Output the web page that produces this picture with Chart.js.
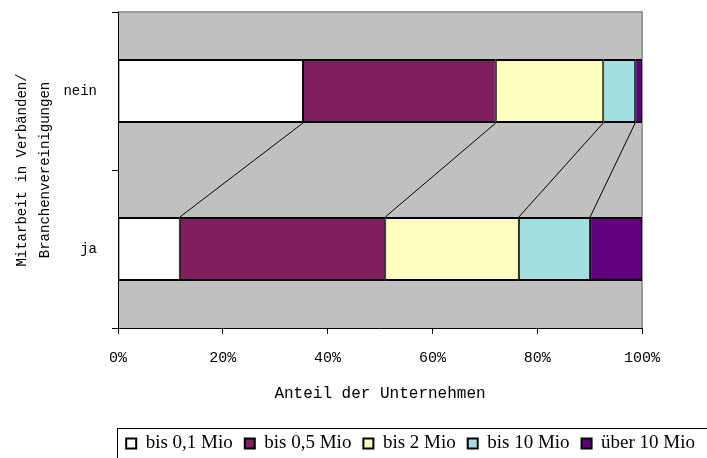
<!DOCTYPE html>
<html>
<head>
<meta charset="utf-8">
<script src="https://cdn.jsdelivr.net/npm/chart.js@4"></script>
<style>
  html, body { margin: 0; padding: 0; background: #fff; }
  canvas { display: block; }
</style>
</head>
<body>
<canvas id="chart" width="707" height="458"></canvas>
<script>
const categories = ['nein', 'ja'];
const seriesNames = ['bis 0,1 Mio', 'bis 0,5 Mio', 'bis 2 Mio', 'bis 10 Mio', 'über 10 Mio'];
const upTo01 = [35.3, 11.8];
const upTo05 = [36.8, 39.2];
const upTo2 = [20.5, 25.5];
const upTo10 = [6.1, 13.6];
const over10 = [1.3, 9.9];
const xTicks = [0, 20, 40, 60, 80, 100];
const yTitle = ['Mitarbeit in Verbänden/', 'Branchenvereinigungen'];
const xTitle = 'Anteil der Unternehmen';

const values = [upTo01, upTo05, upTo2, upTo10, over10];
const colors = ['#ffffff', '#801f60', '#ffffc0', '#a0e0e0', '#600080'];
const mono = 'Liberation Mono, Courier New, monospace';

// grey plot area with thin top/right frame
const plotArea = {
    id: 'plotArea',
    beforeDraw(chart) {
        const { ctx, chartArea: a } = chart;
        ctx.save();
        ctx.fillStyle = '#c0c0c0';
        ctx.fillRect(a.left, a.top, a.width, a.height);
        ctx.strokeStyle = '#999';
        ctx.lineWidth = 2;
        ctx.beginPath();
        ctx.moveTo(a.left, a.top);
        ctx.lineTo(a.right, a.top);
        ctx.lineTo(a.right, a.bottom);
        ctx.stroke();
        ctx.restore();
    }
};

// Excel style series lines between the two bars
const seriesLines = {
    id: 'seriesLines',
    afterDatasetsDraw(chart) {
        const ctx = chart.ctx;
        ctx.save();
        ctx.strokeStyle = '#000';
        ctx.lineWidth = 1;
        for (let i = 0; i < chart.data.datasets.length - 1; i++) {
            const bars = chart.getDatasetMeta(i).data;
            const a = bars[0], b = bars[1];
            ctx.beginPath();
            ctx.moveTo(a.x, a.y + a.height / 2);
            ctx.lineTo(b.x, b.y - b.height / 2);
            ctx.stroke();
        }
        ctx.restore();
    }
};

// fixed legend height + frame around it
const legendFrame = {
    id: 'legendFrame',
    afterInit(chart) {
        const lg = chart.legend;
        const fit = lg.fit;
        lg.fit = function () {
            fit.call(this);
            this.height = 36;
        };
    },
    afterDraw(chart) {
        const boxes = chart.legend.legendHitBoxes;
        if (!boxes || !boxes.length) return;
        const ctx = chart.ctx;
        const left = Math.round(boxes[0].left - 9) + 0.5;
        const top = Math.round(boxes[0].top - 6) + 0.5;
        ctx.save();
        ctx.strokeStyle = '#000';
        ctx.lineWidth = 1;
        ctx.strokeRect(left, top, chart.width, chart.height);
        ctx.restore();
    }
};

new Chart(document.getElementById('chart'), {
    type: 'bar',
    data: {
        labels: categories,
        datasets: seriesNames.map((name, i) => ({
            label: name,
            data: values[i],
            backgroundColor: colors[i],
            borderColor: '#000',
            borderWidth: { top: 2, bottom: 2, left: 1, right: 1 },
            borderSkipped: false,
            categoryPercentage: 1,
            barPercentage: 0.405
        }))
    },
    options: {
        indexAxis: 'y',
        responsive: false,
        animation: false,
        devicePixelRatio: 1,
        layout: { padding: { top: 12, left: 0, right: 0, bottom: 0 } },
        plugins: {
            tooltip: { enabled: false },
            legend: {
                position: 'bottom',
                align: 'end',
                labels: {
                    boxWidth: 10,
                    boxHeight: 10,
                    padding: 12,
                    color: '#000',
                    font: { family: 'Liberation Serif, Times New Roman, serif', size: 19 },
                    generateLabels(chart) {
                        return Chart.defaults.plugins.legend.labels.generateLabels(chart)
                            .map(l => ({ ...l, lineWidth: 2, strokeStyle: '#000' }));
                    }
                }
            }
        },
        scales: {
            x: {
                stacked: true,
                min: 0,
                max: 100,
                afterBuildTicks(s) { s.ticks = xTicks.map(v => ({ value: v })); },
                afterFit(s) { s.height = 94; s.paddingRight = 65; s.paddingLeft = 0; },
                ticks: {
                    color: '#000',
                    padding: 15,
                    maxRotation: 0,
                    font: { family: mono, size: 15 },
                    callback: v => v + '%'
                },
                grid: { drawOnChartArea: false, tickLength: 6, color: '#000' },
                border: { color: '#000', width: 1 },
                title: {
                    display: true,
                    text: xTitle,
                    color: '#000',
                    font: { family: mono, size: 16 },
                    padding: { top: 0, bottom: 19 }
                }
            },
            y: {
                stacked: true,
                afterFit(s) { s.width = 118; s.paddingTop = 0; s.paddingBottom = 0; },
                ticks: {
                    color: '#000',
                    padding: 15,
                    font: { family: mono, size: 14 }
                },
                grid: { drawOnChartArea: false, tickLength: 6, color: '#000' },
                border: { color: '#000', width: 1 },
                title: {
                    display: true,
                    text: yTitle,
                    color: '#000',
                    font: { family: mono, size: 14, lineHeight: 1.65 },
                    padding: { top: 10.5, bottom: 0 }
                }
            }
        }
    },
    plugins: [plotArea, seriesLines, legendFrame]
});
</script>
</body>
</html>
